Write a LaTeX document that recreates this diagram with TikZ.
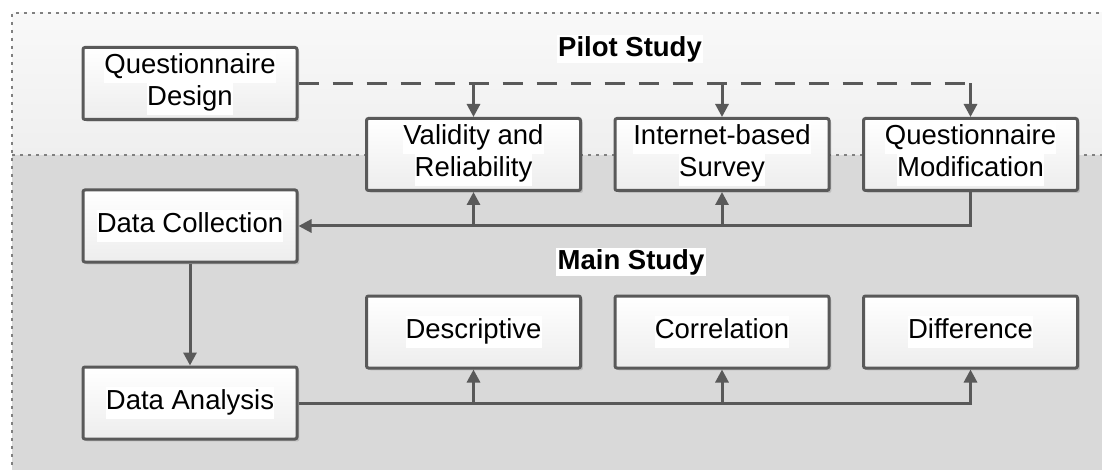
\documentclass[tikz,border=0pt]{standalone}
\usepackage{fontspec}
\setmainfont{Liberation Sans}
\usetikzlibrary{arrows.meta,shadows}
\definecolor{linegray}{HTML}{595959}
\definecolor{dotgray}{HTML}{808080}
\definecolor{pilotbg}{HTML}{EFEFEF}
\definecolor{mainbg}{HTML}{D9D9D9}
\newcommand\hl[1]{{\setlength\fboxsep{0pt}\colorbox{white}{\strut #1}}}
\newcommand\labelfont{\fontsize{13.75}{16}\selectfont}
\tikzset{
  stagebox/.style={draw=linegray,line width=1.5pt,rounded corners=1pt,
    top color=white,bottom color=black!7,
    drop shadow={shadow xshift=1.2pt,shadow yshift=-1.2pt,fill=black,opacity=0.12},
    minimum width=107pt,minimum height=36pt,align=center,inner sep=0pt,
    font=\labelfont},
  title/.style={font=\labelfont\bfseries,fill=white,inner sep=0.6pt},
  link/.style={draw=linegray,line width=1.5pt},
  region/.style={draw=dotgray,line width=0.6pt,dash pattern=on 1.5pt off 2.5pt}
}
\begin{document}
\begin{tikzpicture}[x=0.5pt,y=-0.5pt,>={Triangle[width=6.5pt,length=6.5pt]}]
\clip (0,0) rectangle (1102,470);
\useasboundingbox (0,0) rectangle (1102,470);

% pilot and main study areas
\shade [top color=white!60!pilotbg,bottom color=pilotbg] (12,13) rectangle (1115,155);
\fill [mainbg] (12,155) rectangle (1115,480);
\draw [region] (1115,13) -- (12,13) -- (12,480);
\draw [region] (12,155) -- (1115,155);

\node [title] (pilot) at (630,49) {Pilot Study};
\node [title] (main) at (631,262) {Main Study};

\node [stagebox] (design) at (190,83.5) {\hl{Questionnaire}\\\hl{Design}};
\node [stagebox] (valid) at (473.5,154.5) {\hl{Validity and}\\\hl{Reliability}};
\node [stagebox] (survey) at (722,154.5) {\hl{Internet-based}\\\hl{Survey}};
\node [stagebox] (modif) at (970.5,154.5) {\hl{Questionnaire}\\\hl{Modification}};
\node [stagebox] (collect) at (190,226) {\hl{Data Collection}};
\node [stagebox] (analysis) at (190,403) {\hl{Data Analysis}};
\node [stagebox] (descr) at (473.5,332) {\hl{Descriptive}};
\node [stagebox] (correl) at (722,332) {\hl{Correlation}};
\node [stagebox] (diff) at (970.5,332) {\hl{Difference}};

% pilot loop
\draw [link,dash pattern=on 10pt off 7pt] (design.east) -- (modif.north |- design.east);
\draw [link,->] (valid.north |- design.east) -- (valid.north);
\draw [link,->] (survey.north |- design.east) -- (survey.north);
\draw [link,->] (modif.north |- design.east) -- (modif.north);
\draw [link,->] (modif.south) |- (collect.east);
\draw [link,->] (valid.south |- collect.east) -- (valid.south);
\draw [link,->] (survey.south |- collect.east) -- (survey.south);

% main study
\draw [link,->] (collect) -- (analysis);
\draw [link,->] (analysis.east) -| (diff.south);
\draw [link,->] (descr.south |- analysis.east) -- (descr.south);
\draw [link,->] (correl.south |- analysis.east) -- (correl.south);
\end{tikzpicture}
\end{document}
